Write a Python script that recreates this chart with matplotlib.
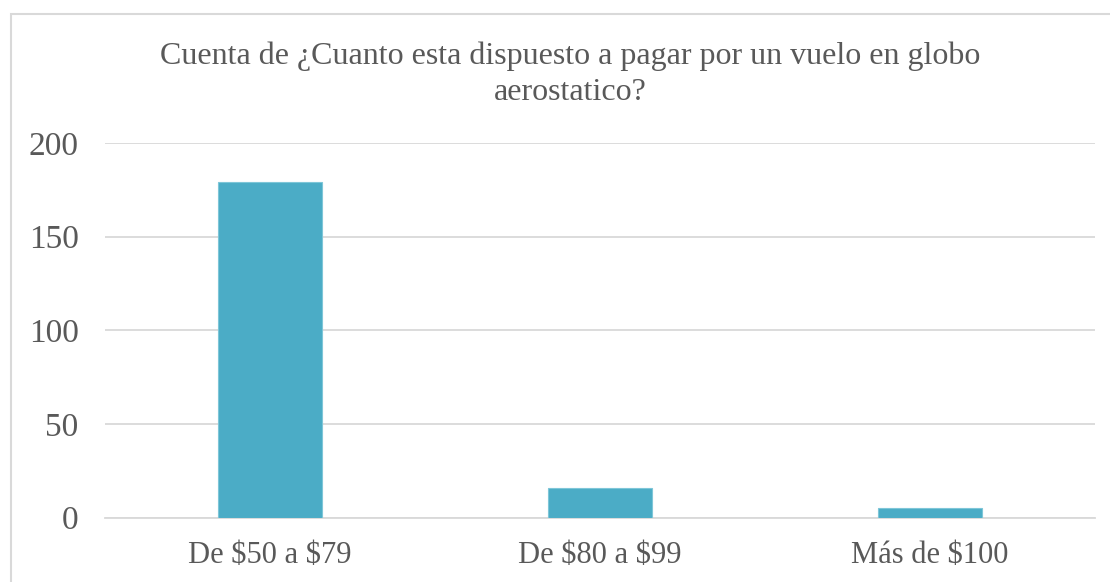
import matplotlib.pyplot as plt
from matplotlib.patches import Rectangle

categories = ['De \\$50 a \\$79', 'De \\$80 a \\$99', 'Más de \\$100']
counts = [179, 16, 5]
y_ticks = [0, 50, 100, 150, 200]
title = 'Cuenta de ¿Cuanto esta dispuesto a pagar por un vuelo en globo\naerostatico?'

plt.rcParams['font.family'] = ['Liberation Serif', 'DejaVu Serif']
text_color = '#595959'
grid_color = '#d9d9d9'

fig = plt.figure(figsize=(11.1, 5.82), dpi=100)
ax = fig.add_axes([105 / 1110, 64.3 / 582, 990 / 1110, 374.7 / 582])

x = range(len(categories))
ax.bar(x, counts, width=0.315, color='#4bacc6', edgecolor='#7ec6d8', linewidth=0.8, zorder=3)

ax.set_xlim(-0.5, len(categories) - 0.5)
ax.set_ylim(0, 200)
ax.set_yticks(y_ticks)
ax.set_xticks(list(x))
ax.set_xticklabels(categories)
ax.tick_params(axis='y', length=0, pad=19, labelsize=24, labelcolor=text_color)
ax.tick_params(axis='x', length=0, pad=17, labelsize=22, labelcolor=text_color)
ax.yaxis.grid(True, color=grid_color, linewidth=1.3, zorder=0)
for s in ['top', 'right', 'left']:
    ax.spines[s].set_visible(False)
ax.spines['bottom'].set_color(grid_color)
ax.spines['bottom'].set_linewidth(1.3)

fig.text(570 / 1110, 1 - 74 / 582, title, ha='center', va='center',
         fontsize=23, color=text_color, linespacing=1.3)

# chart area border
fig.patches.append(Rectangle((11 / 1110, -0.05), 1.2, 1 - 14 / 582 + 0.05,
                             transform=fig.transFigure, fill=False,
                             edgecolor=grid_color, linewidth=1.5))

fig.savefig('out.png', dpi=100)
